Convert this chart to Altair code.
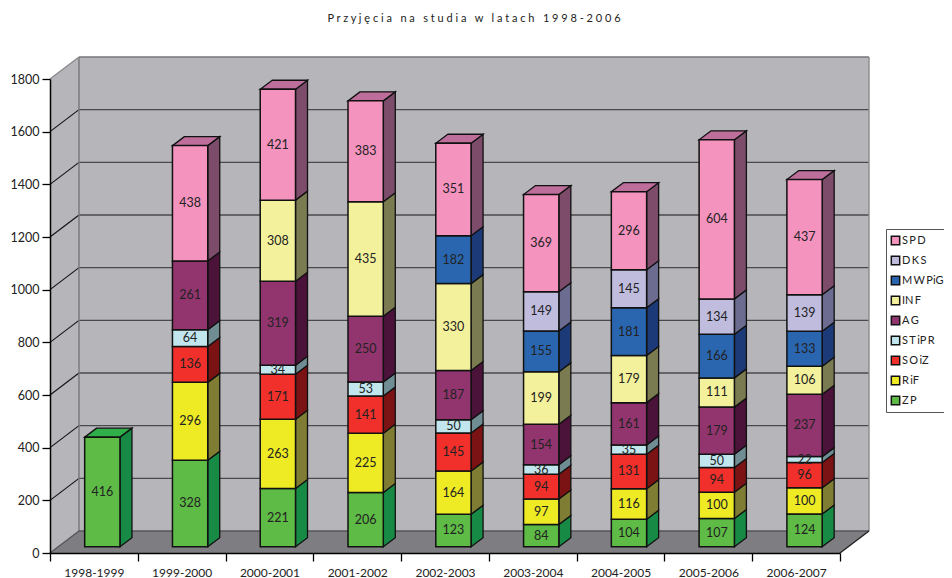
import altair as alt
import pandas as pd

cats = ["1998-1999","1999-2000","2000-2001","2001-2002","2002-2003","2003-2004","2004-2005","2005-2006","2006-2007"]
ZP    = [416,328,221,206,123,84,104,107,124]
RiF   = [0,296,263,225,164,97,116,100,100]
SOiZ  = [0,136,171,141,145,94,131,94,96]
STiPR = [0,64,34,53,50,36,35,50,22]
AG    = [0,261,319,250,187,154,161,179,237]
INF   = [0,0,308,435,330,199,179,111,106]
MWPiG = [0,0,0,0,182,155,181,166,133]
DKS   = [0,0,0,0,0,149,145,134,139]
SPD   = [0,438,421,383,351,369,296,604,437]

names = ["Z\u2009P","R\u2009iF","S\u2009O\u2009iZ","S\u2009T\u2009iP\u2009R","A\u2009G","IN\u2009F","M\u2009W\u2009PiG","D\u2009K\u2009S","S\u2009P\u2009D"]
series = [ZP,RiF,SOiZ,STiPR,AG,INF,MWPiG,DKS,SPD]
front = ["#5dbb46","#eeea23","#f1302b","#c2e6ee","#92356e","#f3f19b","#2a66b0","#bfbcde","#f593bf"]
side  = ["#178a45","#7e7d33","#7b1315","#6f8d93","#4b123a","#7b7b52","#1d3a78","#6b6c90","#7d4c6b"]
top   = ["#2fae4a","#bdb92c","#c0201f","#9ab7bd","#74295a","#c2c07c","#214f8e","#9896b2","#bd6e9b"]

FONT = "Lato"
def track(s):
    return " ".join("\u00a0" if ch == " " else ch for ch in s)

# plot geometry
W, H = 820, 496
XR, YR = 790, 474
wdx = 29 / XR * 9
wdy = 22 / YR * 1800
bdx = 12 / XR * 9
bdy = 9 / YR * 1800
bstart = 0.395
bw = 0.402
base = 24

xs = alt.Scale(domain=[0, 9], range=[0, XR], zero=False, nice=False)
ys = alt.Scale(domain=[0, 1800], range=[H, H - YR], zero=False, nice=False)
X = lambda f: alt.X(f, type="quantitative", scale=xs, axis=None)
Y = lambda f: alt.Y(f, type="quantitative", scale=ys, axis=None, stack=None)

fronts, sides, tops = [], [], []
for i, c in enumerate(cats):
    acc = 0
    last = None
    for j, n in enumerate(names):
        v = series[j][i]
        if v == 0:
            continue
        x0 = i + bstart
        x1 = x0 + bw
        v0 = acc + base
        v1 = v0 + v
        fronts.append(dict(x=x0, x2=x1, y=v0, y2=v1, seg=n, val=str(v), xm=(x0 + x1) / 2, ym=(v0 + v1) / 2))
        key = f"{i}-{j}"
        sides.append(dict(x=x1, y=v0, y2=v1, key=key, col=side[j]))
        sides.append(dict(x=x1 + bdx, y=v0 + bdy, y2=v1 + bdy, key=key, col=side[j]))
        acc += v
        last = (x0, x1, v1, top[j])
    x0, x1, v1, tc = last
    tops.append(dict(y=v1, x=x0, x2=x1, key=str(i), col=tc))
    tops.append(dict(y=v1 + bdy, x=x0 + bdx, x2=x1 + bdx, key=str(i), col=tc))

wall = "#b6b6ba"
floorc = "#7e7e82"
grid_vals = list(range(200, 1801, 200))

left_wall = alt.Chart(pd.DataFrame([dict(x=0, y=0, y2=1800), dict(x=wdx, y=wdy, y2=1800 + wdy)])).mark_area(
    orient="vertical", fill=wall).encode(
    x=X("x"),
    y=alt.Y("y:Q", scale=ys, stack=None, title=None, axis=alt.Axis(
        values=list(range(0, 1801, 200)), format="d", tickSize=8, tickColor="black", tickWidth=1.3,
        domainColor="black", domainWidth=1.5, labelFont=FONT, labelFontSize=12.5, labelColor="#222",
        labelPadding=3, grid=False, zindex=1)),
    y2="y2:Q")
back_wall = alt.Chart(pd.DataFrame([dict(x=wdx, x2=9 + wdx, y=wdy, y2=1800 + wdy)])).mark_rect(fill=wall).encode(
    x=X("x"), x2="x2:Q", y=Y("y"), y2="y2:Q")
floor = alt.Chart(pd.DataFrame([dict(y=0, x=0, x2=9), dict(y=wdy, x=wdx, x2=9 + wdx)])).mark_area(
    orient="horizontal", fill=floorc).encode(y=Y("y"), x=X("x"), x2="x2:Q")

back_grid = alt.Chart(pd.DataFrame(dict(y=[g + wdy for g in grid_vals[:-1]], x=wdx, x2=9 + wdx))).mark_rule(
    color="#4a4a4d", strokeWidth=1.3).encode(x=X("x"), x2="x2:Q", y=Y("y"))
left_grid = alt.Chart(pd.DataFrame(dict(x=0, x2=wdx, y=grid_vals[:-1], y2=[g + wdy for g in grid_vals[:-1]]))).mark_rule(
    color="#111", strokeWidth=1.1).encode(x=X("x"), x2="x2:Q", y=Y("y"), y2="y2:Q")
edges = alt.Chart(pd.DataFrame([
    dict(x=wdx, x2=wdx, y=wdy, y2=1800 + wdy, c="#77777b"),
    dict(x=wdx, x2=9 + wdx, y=1800 + wdy, y2=1800 + wdy, c="#77777b"),
    dict(x=9 + wdx, x2=9 + wdx, y=wdy, y2=1800 + wdy, c="#8a8a8e"),
    dict(x=0, x2=wdx, y=1800, y2=1800 + wdy, c="#8a8a8e"),
    dict(x=wdx, x2=9 + wdx, y=wdy, y2=wdy, c="#55555a"),
    dict(x=0, x2=wdx, y=0, y2=wdy, c="#55555a"),
    dict(x=9, x2=9 + wdx, y=0, y2=wdy, c="#222222"),
])).mark_rule(strokeWidth=1.4).encode(
    x=X("x"), x2="x2:Q", y=Y("y"), y2="y2:Q", color=alt.Color("c:N", scale=None))

cat_axis = alt.Chart(pd.DataFrame(dict(c=cats))).mark_rule(opacity=0).encode(
    x=alt.X("c:N", title=None, sort=cats,
            scale=alt.Scale(domain=cats, range=[0, XR], paddingInner=0, paddingOuter=0),
            axis=alt.Axis(tickBand="extent", tickSize=8, tickColor="black", tickWidth=1.3,
                          domainColor="black", domainWidth=1.5, labelAngle=0, labelFont=FONT,
                          labelFontSize=12, labelColor="#222", labelPadding=6, zindex=1, labelOverlap=False)),
    y=alt.value(0), y2=alt.value(1))

side_l = alt.Chart(pd.DataFrame(sides)).mark_area(orient="vertical", stroke="#111", strokeWidth=1.3).encode(
    x=X("x"), y=Y("y"), y2="y2:Q", detail="key:N", color=alt.Color("col:N", scale=None))
top_l = alt.Chart(pd.DataFrame(tops)).mark_area(orient="horizontal", stroke="#111", strokeWidth=1.3).encode(
    y=Y("y"), x=X("x"), x2="x2:Q", detail="key:N", color=alt.Color("col:N", scale=None))
front_l = alt.Chart(pd.DataFrame(fronts)).mark_rect(stroke="#111", strokeWidth=1.5).encode(
    x=X("x"), x2="x2:Q", y=Y("y"), y2="y2:Q",
    color=alt.Color("seg:N", title=None,
                    scale=alt.Scale(domain=names[::-1], range=front[::-1]),
                    sort=names[::-1],
                    legend=alt.Legend(orient="none", legendX=836, legendY=172, fillColor="white",
                                      strokeColor="#555", padding=4, symbolType="square", symbolSize=70,
                                      symbolStrokeColor="#111", symbolStrokeWidth=1.5, labelFont=FONT,
                                      labelFontSize=11, labelColor="#222", rowPadding=5, labelOffset=1,
                                      clipHeight=15, labelLimit=60)))
text_l = alt.Chart(pd.DataFrame(fronts)).mark_text(font=FONT, fontSize=12.5, color="#222", baseline="middle").encode(
    x=X("xm"), y=Y("ym"), text="val:N")

title_text = "Przyjęcia na studia w latach 1998-2006"
chart = alt.layer(
    left_wall, back_wall, floor, back_grid, left_grid, edges, cat_axis, side_l, top_l, front_l, text_l
).resolve_scale(x="independent", y="independent", color="independent").properties(
    width=W, height=H, autosize="none",
    padding={"left": 42, "top": 49, "right": 74, "bottom": 25},
    title=alt.TitleParams(track(title_text), font=FONT, fontSize=11, fontWeight="normal", color="#222",
                          anchor="middle", dx=14, offset=32),
).configure_view(stroke=None)

chart.save("out.html", embed_options={"renderer": "svg", "actions": False})
